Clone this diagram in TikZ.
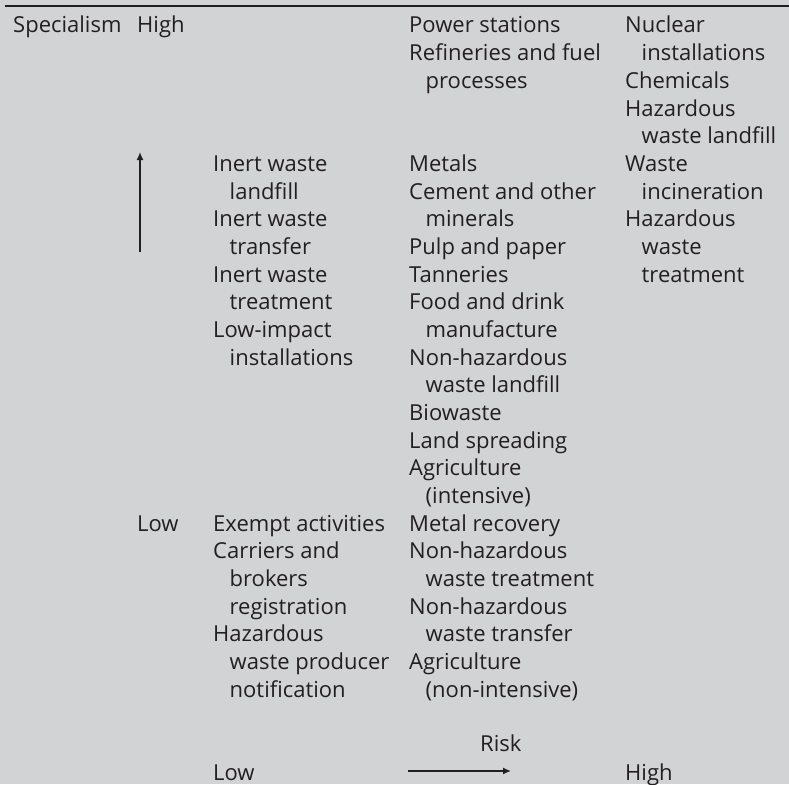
\documentclass[tikz,border=0pt]{standalone}
\usepackage{fontspec}
\setmainfont{Open Sans}
\usetikzlibrary{arrows.meta}
\definecolor{paper}{HTML}{D2D3D5}
\definecolor{ink}{HTML}{231F20}
% baseline of text line n
\newcommand\lineY[1]{-(33+(#1-1)*27.67)}
\begin{document}
\begin{tikzpicture}[x=1pt,y=1pt,
  txt/.style={anchor=base west,inner sep=0pt,text=ink,font=\fontsize{22}{26}\selectfont},
  axisarrow/.style={draw=ink,line width=1.4pt,-{Latex[length=8pt,width=7pt]}}]
\fill[paper] (0,0) rectangle (789,-784);
\useasboundingbox (0,0) rectangle (789,-784);
% top rule
\draw[ink,line width=2.5pt] (5,-6) -- (789,-6);
\def\cA{13}\def\cB{137}\def\cC{213}\def\cD{409}\def\cE{625}\def\ind{16.5}
% first column and level labels
\node[txt] (spec) at (\cA,{\lineY{1}}) {Specialism};
\node[txt] (shigh) at (\cB,{\lineY{1}}) {High};
\node[txt] (slow) at (\cB,{\lineY{19}}) {Low};
% low-risk column
\node[txt] (a1) at (\cC,{\lineY{6}}) {Inert waste};
\node[txt] (a2) at (\cC+\ind,{\lineY{7}}) {landfill};
\node[txt] (a3) at (\cC,{\lineY{8}}) {Inert waste};
\node[txt] (a4) at (\cC+\ind,{\lineY{9}}) {transfer};
\node[txt] (a5) at (\cC,{\lineY{10}}) {Inert waste};
\node[txt] (a6) at (\cC+\ind,{\lineY{11}}) {treatment};
\node[txt] (a7) at (\cC,{\lineY{12}}) {Low-impact};
\node[txt] (a8) at (\cC+\ind,{\lineY{13}}) {installations};
\node[txt] (a9) at (\cC,{\lineY{19}}) {Exempt activities};
\node[txt] (a10) at (\cC,{\lineY{20}}) {Carriers and};
\node[txt] (a11) at (\cC+\ind,{\lineY{21}}) {brokers};
\node[txt] (a12) at (\cC+\ind,{\lineY{22}}) {registration};
\node[txt] (a13) at (\cC,{\lineY{23}}) {Hazardous};
\node[txt] (a14) at (\cC+\ind,{\lineY{24}}) {waste producer};
\node[txt] (a15) at (\cC+\ind,{\lineY{25}}) {notification};
\node[txt] (rlow) at (\cC,{\lineY{28}}) {Low};
% medium-risk column
\node[txt] (b1) at (\cD,{\lineY{1}}) {Power stations};
\node[txt] (b2) at (\cD,{\lineY{2}}) {Refineries and fuel};
\node[txt] (b3) at (\cD+\ind,{\lineY{3}}) {processes};
\node[txt] (b4) at (\cD,{\lineY{6}}) {Metals};
\node[txt] (b5) at (\cD,{\lineY{7}}) {Cement and other};
\node[txt] (b6) at (\cD+\ind,{\lineY{8}}) {minerals};
\node[txt] (b7) at (\cD,{\lineY{9}}) {Pulp and paper};
\node[txt] (b8) at (\cD,{\lineY{10}}) {Tanneries};
\node[txt] (b9) at (\cD,{\lineY{11}}) {Food and drink};
\node[txt] (b10) at (\cD+\ind,{\lineY{12}}) {manufacture};
\node[txt] (b11) at (\cD,{\lineY{13}}) {Non-hazardous};
\node[txt] (b12) at (\cD+\ind,{\lineY{14}}) {waste landfill};
\node[txt] (b13) at (\cD,{\lineY{15}}) {Biowaste};
\node[txt] (b14) at (\cD,{\lineY{16}}) {Land spreading};
\node[txt] (b15) at (\cD,{\lineY{17}}) {Agriculture};
\node[txt] (b16) at (\cD+\ind,{\lineY{18}}) {(intensive)};
\node[txt] (b17) at (\cD,{\lineY{19}}) {Metal recovery};
\node[txt] (b18) at (\cD,{\lineY{20}}) {Non-hazardous};
\node[txt] (b19) at (\cD+\ind,{\lineY{21}}) {waste treatment};
\node[txt] (b20) at (\cD,{\lineY{22}}) {Non-hazardous};
\node[txt] (b21) at (\cD+\ind,{\lineY{23}}) {waste transfer};
\node[txt] (b22) at (\cD,{\lineY{24}}) {Agriculture};
\node[txt] (b23) at (\cD+\ind,{\lineY{25}}) {(non-intensive)};
\node[txt] (risk) at (480,{\lineY{27}+1}) {Risk};
% high-risk column
\node[txt] (c1) at (\cE,{\lineY{1}}) {Nuclear};
\node[txt] (c2) at (\cE+\ind,{\lineY{2}}) {installations};
\node[txt] (c3) at (\cE,{\lineY{3}}) {Chemicals};
\node[txt] (c4) at (\cE,{\lineY{4}}) {Hazardous};
\node[txt] (c5) at (\cE+\ind,{\lineY{5}}) {waste landfill};
\node[txt] (c6) at (\cE,{\lineY{6}}) {Waste};
\node[txt] (c7) at (\cE+\ind,{\lineY{7}}) {incineration};
\node[txt] (c8) at (\cE,{\lineY{8}}) {Hazardous};
\node[txt] (c9) at (\cE+\ind,{\lineY{9}}) {waste};
\node[txt] (c10) at (\cE+\ind,{\lineY{10}}) {treatment};
\node[txt] (rhigh) at (\cE,{\lineY{28}}) {High};
% axis arrows
\coordinate (upfrom) at (140,-252);
\coordinate (upto) at (140,-152);
\coordinate (rfrom) at (408,-771);
\coordinate (rto) at (511,-771);
\draw[axisarrow] (upfrom) -- (upto);
\draw[axisarrow] (rfrom) -- (rto);
\end{tikzpicture}
\end{document}
